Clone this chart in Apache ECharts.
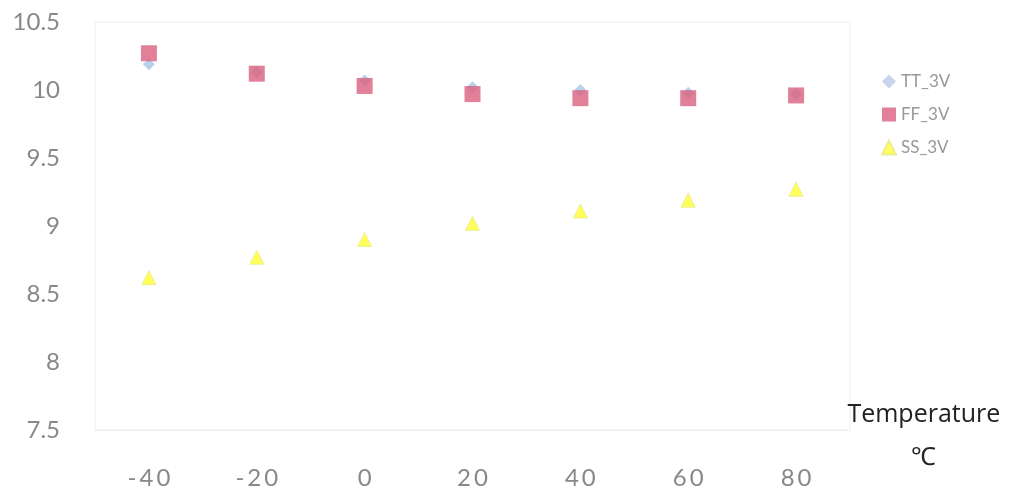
<!DOCTYPE html>
<html>
<head>
<meta charset="utf-8">
<script src="https://cdn.jsdelivr.net/npm/echarts@6/dist/echarts.min.js"></script>
<style>
html, body { margin: 0; padding: 0; background: #fff; }
#container { width: 1017px; height: 492px; }
</style>
</head>
<body>
<div id="container"></div>
<script>
var temps = [-40, -20, 0, 20, 40, 60, 80];
var tt3v = [10.19, 10.13, 10.07, 10.02, 10.0, 9.98, 9.97];
var ff3v = [10.27, 10.12, 10.03, 9.97, 9.94, 9.94, 9.96];
var ss3v = [8.62, 8.77, 8.90, 9.02, 9.11, 9.19, 9.27];

function pairs(vals) {
    return temps.map(function (t, i) { return [t, vals[i]]; });
}

var myChart = echarts.init(document.getElementById("container"));
var labelFont = "Lato, 'Open Sans', sans-serif";

myChart.setOption({
    animation: false,
    grid: {
        left: 95, right: 167, top: 22, bottom: 62,
        outerBoundsMode: "none",
        containLabel: false,
        show: true,
        borderColor: "#eeeeee",
        borderWidth: 1
    },
    legend: {
        orient: "vertical",
        left: 876,
        top: 68,
        itemGap: 16,
        itemWidth: 14,
        itemHeight: 14,
        textStyle: { color: "#999", fontSize: 17, fontFamily: labelFont },
        data: [
            { name: "TT_3V", icon: "diamond", itemStyle: { color: "#b9c9e6" } },
            { name: "FF_3V", icon: "rect" },
            { name: "SS_3V", icon: "triangle" }
        ]
    },
    xAxis: {
        type: "value",
        min: -50,
        max: 90,
        interval: 10,
        name: "Temperature\n℃",
        nameLocation: "end",
        nameGap: 0,
        nameTextStyle: {
            color: "#222",
            fontSize: 25,
            fontFamily: "'Open Sans', sans-serif",
            align: "center",
            verticalAlign: "top",
            lineHeight: 43,
            padding: [-37, 0, 0, 30]
        },
        axisLine: { show: true, lineStyle: { color: "#eeeeee" } },
        axisTick: { show: false },
        splitLine: { show: false },
        axisLabel: {
            color: "#888",
            fontSize: 24,
            fontFamily: labelFont,
            margin: 36,
            formatter: function (v) {
                if (v % 20 !== 0 || v < -40 || v > 80) return "";
                return String(v).split("").join("\u2009");
            }
        }
    },
    yAxis: {
        type: "value",
        min: 7.5,
        max: 10.5,
        interval: 0.5,
        axisLine: { show: false },
        axisTick: { show: false },
        splitLine: { show: false },
        axisLabel: {
            color: "#888",
            fontSize: 24,
            fontFamily: labelFont,
            margin: 35
        }
    },
    series: [
        {
            name: "TT_3V",
            type: "scatter",
            symbol: "diamond",
            symbolSize: 12,
            itemStyle: { color: "#a9c6e8" },
            data: pairs(tt3v)
        },
        {
            name: "FF_3V",
            type: "scatter",
            symbol: "rect",
            symbolSize: 16,
            itemStyle: { color: "#d9607e" },
            data: pairs(ff3v)
        },
        {
            name: "SS_3V",
            type: "scatter",
            symbol: "triangle",
            symbolSize: 14,
            itemStyle: { color: "#ffff33", borderColor: "#e8e890", borderWidth: 1 },
            data: pairs(ss3v)
        }
    ]
});
</script>
</body>
</html>
